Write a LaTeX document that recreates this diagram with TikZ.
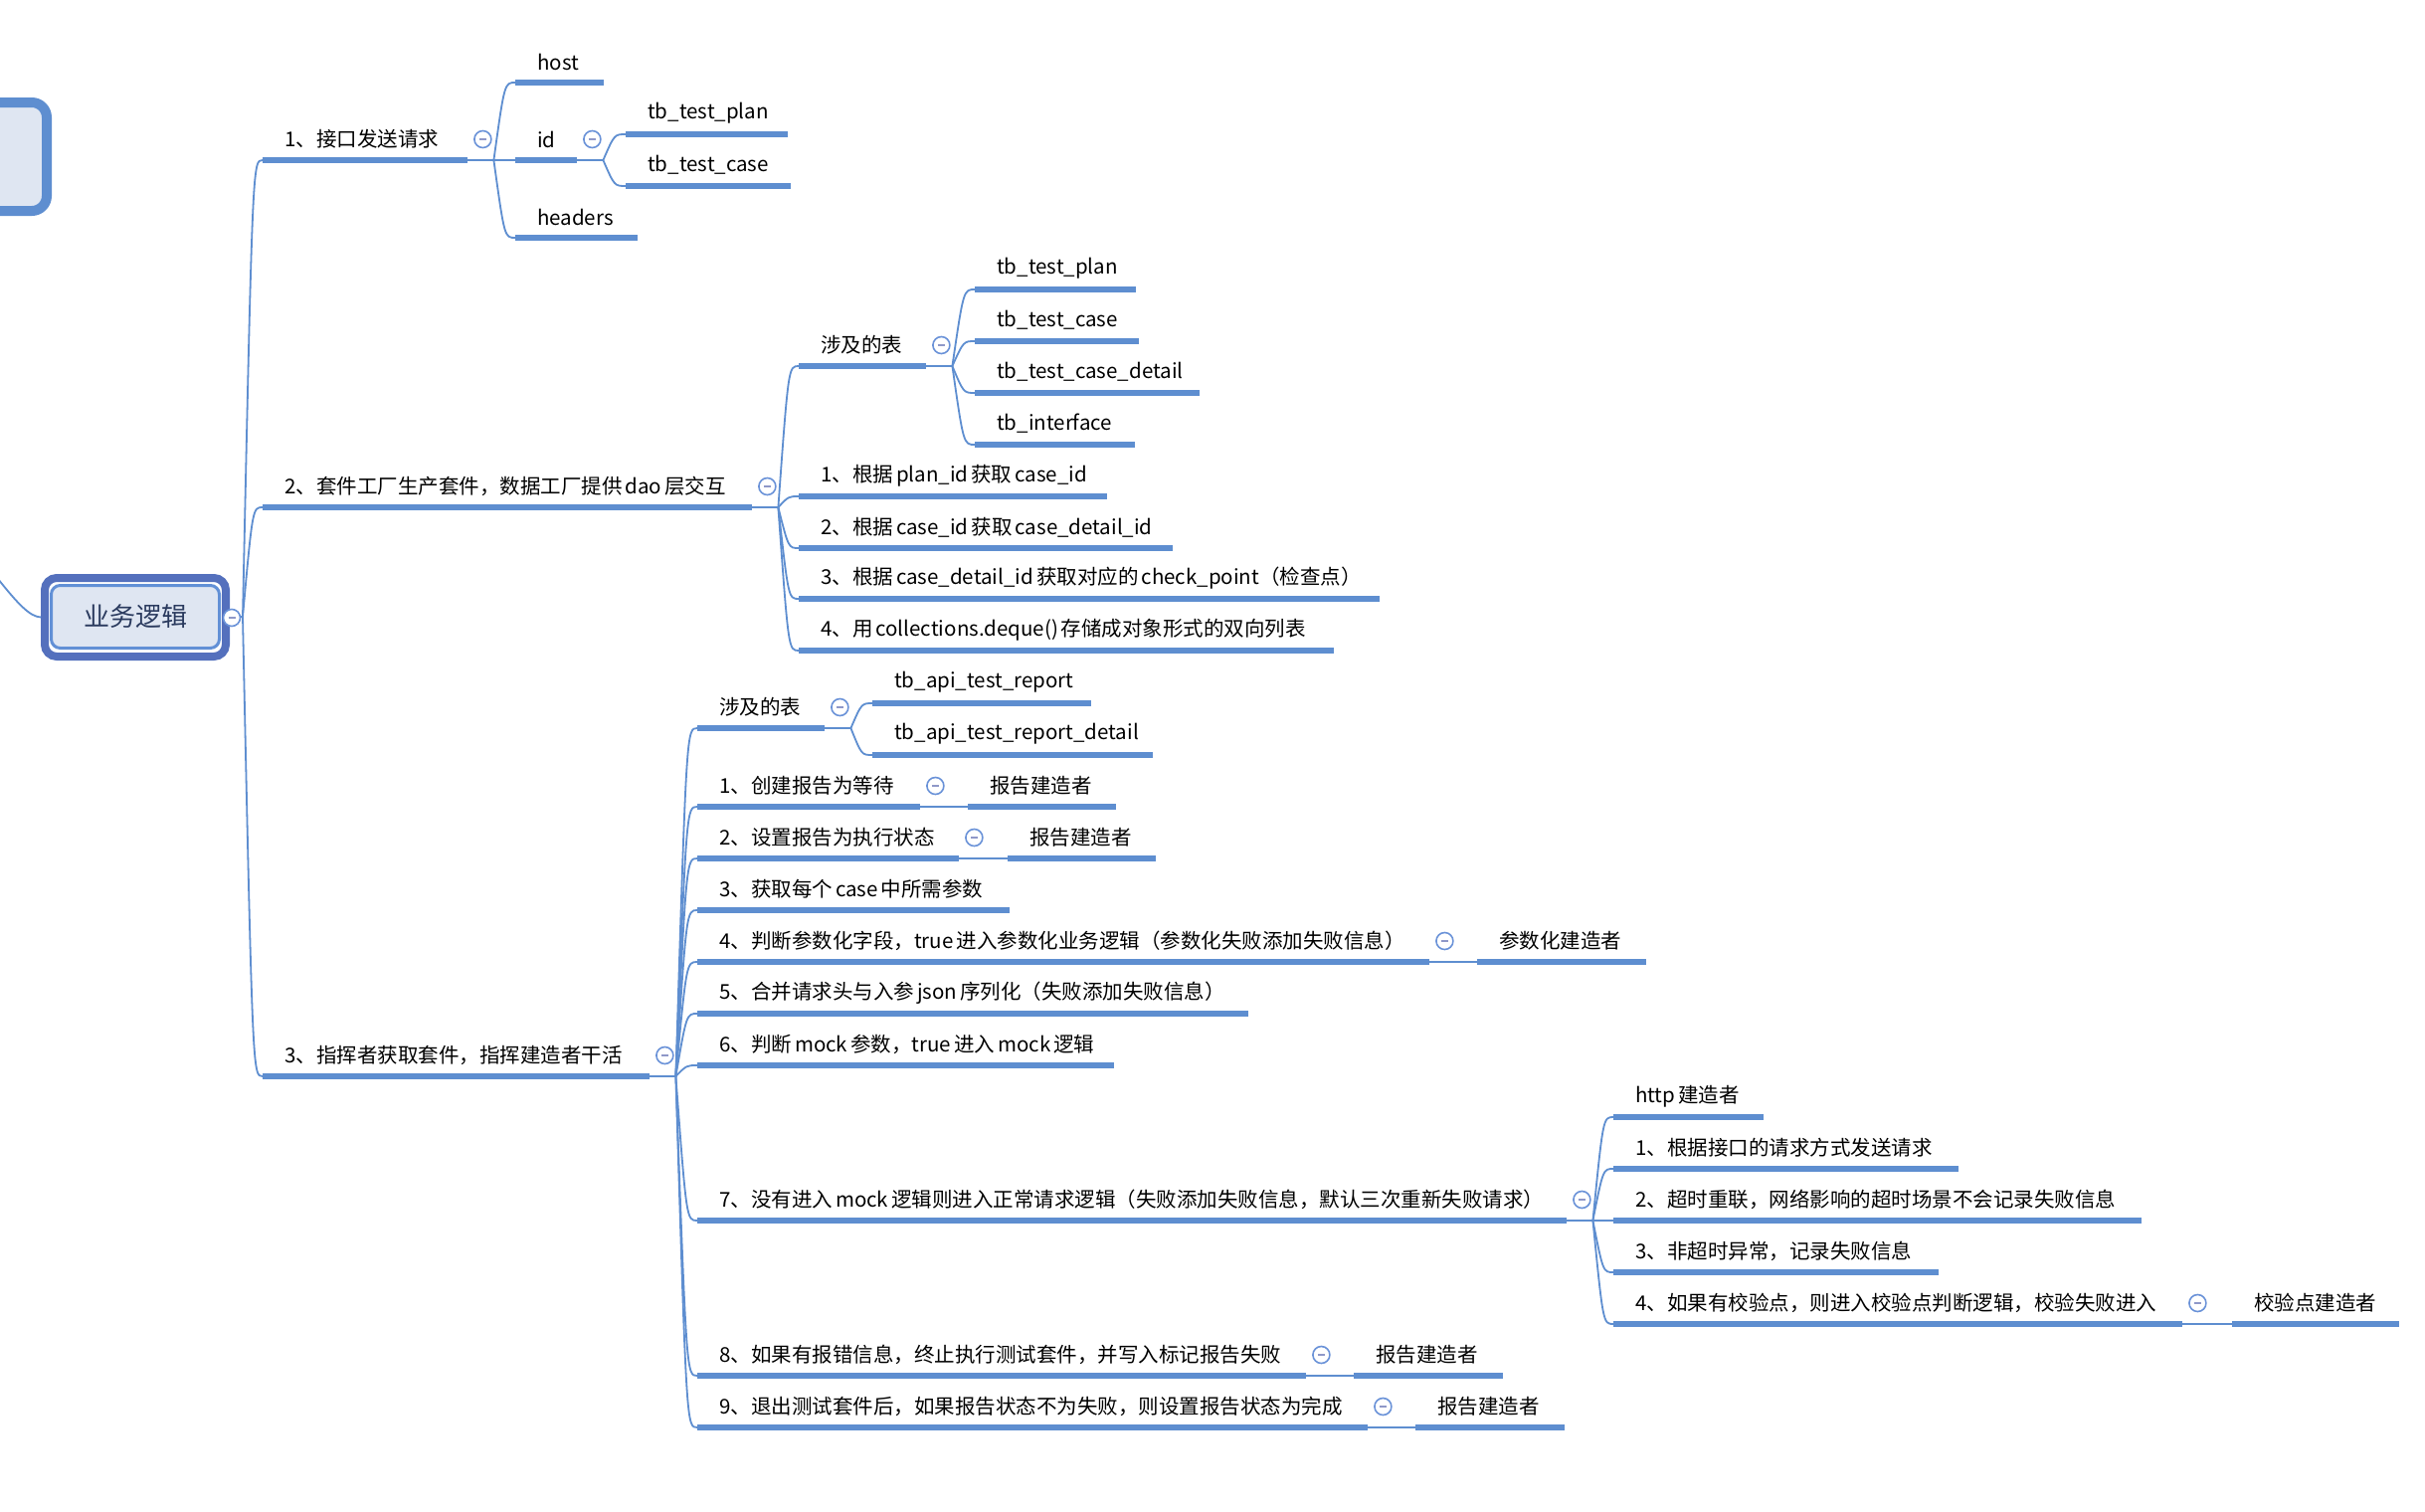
\documentclass[tikz,border=0pt]{standalone}
\usepackage{fontspec}
\setmainfont{Noto Sans CJK SC}
\usetikzlibrary{calc}
\newcommand\lsp{\kern3pt}
\definecolor{ublue}{HTML}{5E8ED0}
\definecolor{lblue}{HTML}{6A92D8}
\definecolor{rootborder}{HTML}{5470BD}
\definecolor{rootinner}{HTML}{6290D6}
\definecolor{rootfill}{HTML}{DFE6F2}
\definecolor{rtext}{HTML}{2A3A5E}
\definecolor{minusc}{HTML}{8F98C8}
\tikzset{
  txt/.style={anchor=west, inner sep=0pt, font=\fontsize{20.5}{24}\selectfont, text=black},
  bar/.style={fill=ublue, draw=none, inner sep=0pt, minimum height=5.5pt, anchor=west},
  conn/.style={draw=ublue, line width=1.8pt},
  fold/.style={circle, draw=lblue, line width=1.6pt, fill=white, minimum size=17pt, inner sep=0pt,
    path picture={\draw[minusc, line width=1.8pt] ([xshift=-3.5pt]path picture bounding box.center) -- ([xshift=3.5pt]path picture bounding box.center);}}
}
\newcommand\mmitem[5]{%
  \node[bar, minimum width={(#4)-(#2)}] (#1) at (#2,#3) {};%
  \node[txt] (#1t) at ({#2+22},{#3-21}) {#5};}
\newcommand\mmfold[1]{%
  \coordinate (#1h) at ($(#1.east)+(26,0)$);%
  \draw[conn] (#1.east) -- (#1h);}
\newcommand\mmcirc[1]{\node[fold] (#1c) at ($(#1.east)+(15,-21)$) {};}
\newcommand\mmlink[2]{\draw[conn] (#1) let \p1=(#1), \p2=(#2.west) in .. controls ({0.5*\x1+0.5*\x2},\y2) .. (#2.west);}
\begin{document}
\begin{tikzpicture}[x=1pt,y=-1pt]
\useasboundingbox (0,0) rectangle (2438,1520);
\fill[white] (0,0) rectangle (2438,1520);

% previous (cut off) node
\node[draw=ublue, line width=10pt, fill=rootfill, rounded corners=15pt, minimum width=120pt, minimum height=109pt, inner sep=0pt] (prev) at (-13,157.5) {};

% root
\node[draw=rootborder, line width=8pt, rounded corners=12pt, fill=white, minimum width=182pt, minimum height=79pt, inner sep=0pt] (root) at (136,620.5) {};
\node[draw=rootinner, line width=3pt, rounded corners=9pt, fill=rootfill, minimum width=169pt, minimum height=63pt, inner sep=0pt, text=rtext, font=\fontsize{26}{30}\selectfont] (rooti) at (136,620) {业务逻辑};
\coordinate (lp) at (-2,582);
\draw[conn] (lp) .. controls (18,607) and (30,620) .. (root.west);
\coordinate (rh) at (244,620);
\draw[conn] (root.east) -- (rh);

% level 1
\mmitem{a1}{264}{161}{470}{1、接口发送请求}
\mmitem{a2}{264}{510}{756}{2、套件工厂生产套件，数据工厂提供\lsp dao\lsp 层交互}
\mmitem{a3}{264}{1082}{653}{3、指挥者获取套件，指挥建造者干活}
\mmlink{rh}{a1}\mmlink{rh}{a2}\mmlink{rh}{a3}

% branch 1
\mmfold{a1}
\mmitem{host}{518}{83}{607}{host}
\mmitem{id}{518}{161}{580}{id}
\mmitem{hdr}{518}{239}{641}{headers}
\mmlink{a1h}{host}\mmlink{a1h}{id}\mmlink{a1h}{hdr}
\mmfold{id}
\mmitem{tpa}{629}{135}{792}{tb\_test\_plan}
\mmitem{tca}{629}{187}{795}{tb\_test\_case}
\mmlink{idh}{tpa}\mmlink{idh}{tca}

% branch 2
\mmfold{a2}
\mmitem{s2}{803}{368}{931}{涉及的表}
\mmitem{b1}{803}{499}{1113}{1、根据\lsp plan\_id\lsp 获取\lsp case\_id}
\mmitem{b2}{803}{551}{1179}{2、根据\lsp case\_id\lsp 获取\lsp case\_detail\_id}
\mmitem{b3}{803}{602}{1387}{3、根据\lsp case\_detail\_id\lsp 获取对应的\lsp check\_point（检查点）}
\mmitem{b4}{803}{654}{1341}{4、用\lsp collections.deque()\lsp 存储成对象形式的双向列表}
\mmlink{a2h}{s2}\mmlink{a2h}{b1}\mmlink{a2h}{b2}\mmlink{a2h}{b3}\mmlink{a2h}{b4}
\mmfold{s2}
\mmitem{ta}{980}{291}{1142}{tb\_test\_plan}
\mmitem{tb}{980}{343}{1145}{tb\_test\_case}
\mmitem{tc}{980}{395}{1206}{tb\_test\_case\_detail}
\mmitem{td}{980}{447}{1141}{tb\_interface}
\mmlink{s2h}{ta}\mmlink{s2h}{tb}\mmlink{s2h}{tc}\mmlink{s2h}{td}

% branch 3
\mmfold{a3}
\mmitem{s3}{701}{732}{829}{涉及的表}
\mmitem{c1}{701}{811}{925}{1、创建报告为等待}
\mmitem{c2}{701}{863}{964}{2、设置报告为执行状态}
\mmitem{c3}{701}{915}{1015}{3、获取每个\lsp case\lsp 中所需参数}
\mmitem{c4}{701}{967}{1437}{4、判断参数化字段，true\lsp 进入参数化业务逻辑（参数化失败添加失败信息）}
\mmitem{c5}{701}{1019}{1255}{5、合并请求头与入参\lsp json\lsp 序列化（失败添加失败信息）}
\mmitem{c6}{701}{1071}{1120}{6、判断\lsp mock\lsp 参数，true\lsp 进入\lsp mock\lsp 逻辑}
\mmitem{c7}{701}{1227}{1575}{7、没有进入\lsp mock\lsp 逻辑则进入正常请求逻辑（失败添加失败信息，默认三次重新失败请求）}
\mmitem{c8}{701}{1383}{1313}{8、如果有报错信息，终止执行测试套件，并写入标记报告失败}
\mmitem{c9}{701}{1435}{1375}{9、退出测试套件后，如果报告状态不为失败，则设置报告状态为完成}
\mmlink{a3h}{s3}\mmlink{a3h}{c1}\mmlink{a3h}{c2}\mmlink{a3h}{c3}\mmlink{a3h}{c4}
\mmlink{a3h}{c5}\mmlink{a3h}{c6}\mmlink{a3h}{c7}\mmlink{a3h}{c8}\mmlink{a3h}{c9}
\mmfold{s3}
\mmitem{ra}{877}{707}{1097}{tb\_api\_test\_report}
\mmitem{rb}{877}{759}{1159}{tb\_api\_test\_report\_detail}
\mmlink{s3h}{ra}\mmlink{s3h}{rb}

\mmitem{c1k}{973}{811}{1122}{报告建造者}
\mmitem{c2k}{1013}{863}{1162}{报告建造者}
\mmitem{c4k}{1485}{967}{1655}{参数化建造者}
\mmitem{c8k}{1361}{1383}{1511}{报告建造者}
\mmitem{c9k}{1423}{1435}{1573}{报告建造者}
\draw[conn] (c1.east) -- (c1k.west);
\draw[conn] (c2.east) -- (c2k.west);
\draw[conn] (c4.east) -- (c4k.west);
\draw[conn] (c8.east) -- (c8k.west);
\draw[conn] (c9.east) -- (c9k.west);

\mmfold{c7}
\mmitem{d0}{1622}{1123}{1773}{http\lsp 建造者}
\mmitem{d1}{1622}{1175}{1969}{1、根据接口的请求方式发送请求}
\mmitem{d2}{1622}{1227}{2153}{2、超时重联，网络影响的超时场景不会记录失败信息}
\mmitem{d3}{1622}{1279}{1949}{3、非超时异常，记录失败信息}
\mmitem{d4}{1622}{1331}{2194}{4、如果有校验点，则进入校验点判断逻辑，校验失败进入}
\mmlink{c7h}{d0}\mmlink{c7h}{d1}\mmlink{c7h}{d2}\mmlink{c7h}{d3}\mmlink{c7h}{d4}
\mmitem{d4k}{2244}{1331}{2412}{校验点建造者}
\draw[conn] (d4.east) -- (d4k.west);

% collapse markers
\node[fold] (rootc) at (233,621) {};
\mmcirc{a1}\mmcirc{id}\mmcirc{a2}\mmcirc{s2}\mmcirc{a3}\mmcirc{s3}
\mmcirc{c1}\mmcirc{c2}\mmcirc{c4}\mmcirc{c7}\mmcirc{c8}\mmcirc{c9}\mmcirc{d4}
\end{tikzpicture}
\end{document}
